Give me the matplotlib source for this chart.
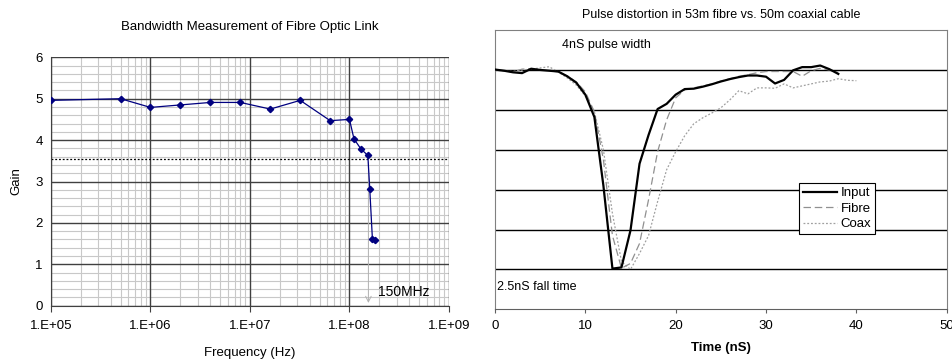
import numpy as np
import matplotlib
matplotlib.use("Agg")
import matplotlib.pyplot as plt
from matplotlib.ticker import FixedLocator, NullFormatter, MultipleLocator

plt.rcParams['font.family'] = ['Liberation Sans', 'DejaVu Sans']

# bandwidth measurement (left)
freq = [1e5, 5e5, 1e6, 2e6, 4e6, 8e6, 1.6e7, 3.2e7, 6.4e7, 1.0e8,
        1.11e8, 1.3e8, 1.53e8, 1.6e8, 1.7e8, 1.81e8]
gain = [4.96, 5.00, 4.79, 4.85, 4.91, 4.91, 4.75, 4.96, 4.47, 4.50,
        4.03, 3.79, 3.63, 2.81, 1.62, 1.59]
gain_3db = 3.54
f_3db = 1.55e8
freq_ticks = [1e5, 1e6, 1e7, 1e8, 1e9]
freq_labels = ["1.E+05", "1.E+06", "1.E+07", "1.E+08", "1.E+09"]
gain_ticks = [0, 1, 2, 3, 4, 5, 6]

# pulse distortion (right)
t_input = list(range(0, 39))
v_input = [6.01, 5.98, 5.94, 5.92, 6.03, 6.00, 5.98, 5.96, 5.84, 5.68,
           5.38, 4.82, 3.10, 1.02, 1.05, 1.98, 3.65, 4.37, 5.02, 5.15,
           5.38, 5.52, 5.53, 5.58, 5.64, 5.71, 5.77, 5.82, 5.86, 5.86,
           5.83, 5.66, 5.75, 5.99, 6.07, 6.07, 6.11, 6.02, 5.90]
t_fibre = list(range(0, 39))
v_fibre = [6.01, 5.98, 5.95, 6.02, 6.03, 6.00, 5.98, 5.95, 5.85, 5.70,
           5.45, 4.95, 3.75, 1.85, 1.03, 1.15, 1.65, 2.75, 3.95, 4.75,
           5.30, 5.50, 5.55, 5.60, 5.65, 5.72, 5.78, 5.84, 5.88, 5.93,
           5.96, 5.96, 5.96, 5.96, 5.84, 5.98, 6.04, 6.00, 5.94]
t_coax = list(range(0, 41))
v_coax = [6.00, 5.97, 5.96, 6.00, 6.02, 6.05, 6.08, 5.95, 5.80, 5.62,
          5.35, 4.95, 4.00, 2.40, 1.20, 1.00, 1.40, 1.85, 2.70, 3.50,
          3.95, 4.35, 4.65, 4.80, 4.92, 5.05, 5.25, 5.48, 5.40, 5.55,
          5.55, 5.54, 5.65, 5.55, 5.60, 5.65, 5.70, 5.72, 5.78, 5.74, 5.73]


def left_chart(ax):
    ax.set_xscale("log")
    ax.set_xlim(1e5, 1e9)
    ax.set_ylim(0, 6)
    minor = [m * 10.0 ** e for e in range(5, 9) for m in range(2, 10)]
    ax.xaxis.set_major_locator(FixedLocator(freq_ticks))
    ax.xaxis.set_minor_locator(FixedLocator(minor))
    ax.xaxis.set_minor_formatter(NullFormatter())
    ax.set_xticklabels(freq_labels)
    ax.yaxis.set_major_locator(FixedLocator(gain_ticks))
    ax.yaxis.set_minor_locator(MultipleLocator(0.2))
    # light minor grid, dark major lines on top of it
    ax.grid(which="minor", color="#c8c8c8", lw=0.8, zorder=0)
    for f in freq_ticks:
        ax.axvline(f, color="#404040", lw=1.0, zorder=1)
    for g in gain_ticks:
        ax.axhline(g, color="#404040", lw=1.0, zorder=1)
    ax.set_axisbelow(True)
    ax.tick_params(which="both", length=0, labelsize=9.5, pad=6)
    ax.tick_params(axis="x", which="major", direction="out", length=4, color="#404040")
    for s in ["top", "right"]:
        ax.spines[s].set_visible(False)
    for s in ["left", "bottom"]:
        ax.spines[s].set_color("#404040")

    ax.axhline(gain_3db, color="black", ls=(0, (1.5, 1.5)), lw=0.9, zorder=2)
    ax.annotate("", xy=(f_3db, 0.0), xytext=(f_3db, gain_3db),
                arrowprops=dict(arrowstyle="->", color="#b0b0b0", lw=0.7), zorder=2)
    ax.text(1.92e8, 0.32, "150MHz", fontsize=10, va="center", ha="left", zorder=3)
    ax.plot(freq, gain, color="#000080", lw=0.9, marker="D", markersize=3.2,
            markerfacecolor="#000080", markeredgecolor="#000080", zorder=4)

    ax.set_title("Bandwidth Measurement of Fibre Optic Link", fontsize=9.5, pad=20)
    ax.set_xlabel("Frequency (Hz)", fontsize=9.5, labelpad=11)
    ax.set_ylabel("Gain", fontsize=9.5, labelpad=9.5)


def right_chart(ax):
    ax.set_xlim(0, 50)
    ax.set_ylim(0, 7)
    ax.xaxis.set_major_locator(MultipleLocator(10))
    ax.set_yticks([])
    for y in range(1, 7):
        ax.axhline(y, color="black", lw=1.0, zorder=1)
    for s in ["top", "right", "left"]:
        ax.spines[s].set_color("#808080")
    ax.spines["bottom"].set_color("#606060")
    ax.tick_params(axis="x", direction="out", length=3, labelsize=9.5, pad=5, color="#606060")

    ax.plot(t_coax, v_coax, color="#a0a0a0", lw=0.9, ls=(0, (1.5, 1.5)), label="Coax", zorder=2)
    ax.plot(t_fibre, v_fibre, color="#909090", lw=0.9, ls=(0, (6, 3)), label="Fibre", zorder=3)
    ax.plot(t_input, v_input, color="black", lw=1.6, label="Input", zorder=4)

    h, l = ax.get_legend_handles_labels()
    leg = ax.legend(h[::-1], l[::-1], loc="upper left", bbox_to_anchor=(0.673, 0.452),
                    fontsize=9.5, frameon=True, fancybox=False, framealpha=1,
                    edgecolor="black", borderpad=0.3, labelspacing=0.25,
                    handlelength=2.6, handletextpad=0.25, borderaxespad=0)
    leg.get_frame().set_linewidth(0.8)
    leg.set_zorder(6)

    ax.text(7.4, 6.63, "4nS pulse width", fontsize=9, va="center", ha="left")
    ax.text(0.25, 0.55, "2.5nS fall time", fontsize=9, va="center", ha="left")

    ax.set_title("Pulse distortion in 53m fibre vs. 50m coaxial cable", fontsize=9, pad=9)
    ax.set_xlabel("Time (nS)", fontsize=9.5, fontweight="bold", labelpad=7)


def main():
    fig = plt.figure(figsize=(9.53, 3.6), dpi=100)
    ax1 = fig.add_axes([0.0535, 0.1508, 0.4176, 0.6900])
    ax2 = fig.add_axes([0.5194, 0.1408, 0.4740, 0.7758])
    left_chart(ax1)
    right_chart(ax2)
    fig.savefig("out.png", dpi=100, facecolor="white")


if __name__ == "__main__":
    main()
